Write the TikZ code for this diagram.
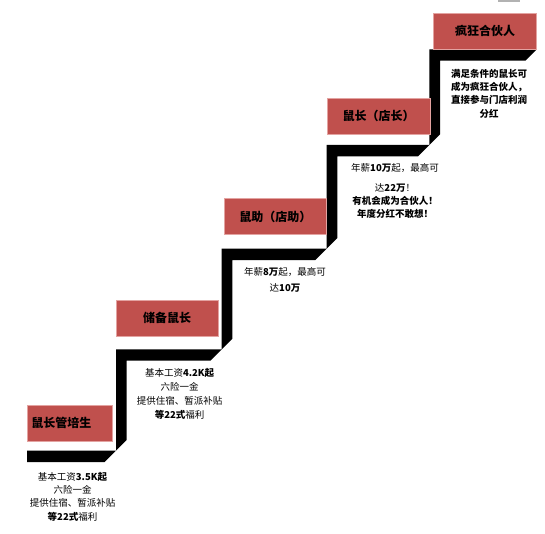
\documentclass[tikz,border=0pt]{standalone}
\usepackage{fontspec}
\setmainfont{Noto Sans CJK SC}
\definecolor{stepred}{HTML}{C0504D}
\definecolor{stepedge}{HTML}{E3A3A1}
\tikzset{
    title/.style={fill=stepred, draw=stepedge, line width=0.6pt,
                  minimum width=102.5pt, minimum height=36pt, inner sep=0pt,
                  font=\fontsize{12}{14}\selectfont\bfseries},
    info/.style={align=center, inner sep=0pt,
                 font=\fontsize{9.5}{13.3}\selectfont},
    stair/.style={fill=black},
}

\begin{document}
\begin{tikzpicture}[x=1pt, y=-1pt]
    \useasboundingbox (0,0) rectangle (545,534);
    % staircase band
    \fill[stair] (27,450.7) -- (116,450.7) -- (116,349.3) -- (221.7,349.3)
        -- (221.7,248.7) -- (326.7,248.7) -- (326.7,145) -- (429.3,145)
        -- (429.3,49.3) -- (536.7,49.3) -- (525.4,60.6) -- (440,60.6)
        -- (440,134.3) -- (418,156.3) -- (337.4,156.3) -- (337.4,238)
        -- (315.4,260) -- (232.4,260) -- (232.4,338.6) -- (210.4,360.6)
        -- (126.7,360.6) -- (126.7,440) -- (104.7,462) -- (27,462) -- cycle;
    \fill[gray!60] (498,0) rectangle (520,2.5);

    \node[title, minimum width=85.7pt, text width=77pt, align=left,
          inner xsep=4.3pt] (trainee) at (69.85,423.35) {鼠长管培生};
    \node[title] (reserve) at (167.2,317.9) {储备鼠长};
    \node[title] (assistant) at (275.4,216.8) {鼠助（店助）};
    \node[title] (manager) at (378.6,116.3) {鼠长（店长）};
    \node[title] (partner) at (485,31) {疯狂合伙人};

    \node[info] (trainee-info) at (72.5,496.7)
        {基本工资\textbf{3.5K起}\\六险一金\\提供住宿、暂派补贴\\\textbf{等22式}福利};
    \node[info, font=\fontsize{9.5}{14}\selectfont] (reserve-info) at (179.6,394)
        {基本工资\textbf{4.2K起}\\六险一金\\提供住宿、暂派补贴\\\textbf{等22式}福利};
    \node[info] (assistant-info) at (285,280)
        {年薪\textbf{8万}起，最高可\\[3.4pt]达\textbf{10万}};
    \node[info] (manager-info) at (395,191.2)
        {年薪\textbf{10万}起，最高可\\[6pt]达\textbf{22万}！\\
         \textbf{有机会成为合伙人！}\\\textbf{年度分红不敢想！}};
    \node[info, font=\fontsize{9.5}{13.3}\selectfont\bfseries] (partner-info) at (489,93.7)
        {满足条件的鼠长可\\成为疯狂合伙人，\\直接参与门店利润\\分红};
\end{tikzpicture}
\end{document}
